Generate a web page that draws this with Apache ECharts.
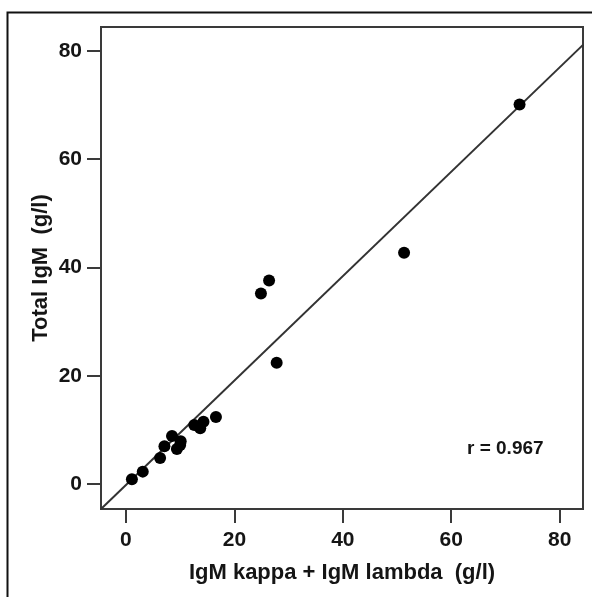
<!DOCTYPE html>
<html>
<head>
<meta charset="utf-8">
<script src="https://cdn.jsdelivr.net/npm/echarts@6/dist/echarts.min.js"></script>
<style>
html,body{margin:0;padding:0;background:#fff;}
#chart{width:592px;height:597px;}
</style>
</head>
<body>
<div id="chart"></div>
<script>
// Data
const kappaLambda = [1.1, 3.1, 6.3, 7.1, 8.5, 9.4, 10.1, 10.0, 12.6, 13.7, 14.3, 16.6, 24.9, 26.4, 27.8, 51.3, 72.6];
const totalIgM    = [0.9, 2.3, 4.8, 7.0, 8.9, 6.5, 7.9, 7.2, 10.9, 10.3, 11.5, 12.4, 35.2, 37.6, 22.4, 42.7, 70.1];
const fitX = [-4.6, 84.3];
const fitY = [-4.6, 81.1];
const tickValues = [0, 20, 40, 60, 80];
const xName = 'IgM kappa + IgM lambda  (g/l)';
const yName = 'Total IgM  (g/l)';
const rText = 'r = 0.967';

const points = kappaLambda.map((x, i) => [x, totalIgM[i]]);
const fitLine = fitX.map((x, i) => [x, fitY[i]]);

const font = 'Liberation Sans, Arial, sans-serif';
const axisColor = '#3a3a3a';
const textColor = '#151515';

function makeAxis(min, max, name, gap, labelMargin) {
  return {
    type: 'value',
    min: min,
    max: max,
    name: name,
    nameLocation: 'middle',
    nameGap: gap,
    nameMoveOverlap: false,
    nameTextStyle: {fontFamily: font, fontSize: 22, fontWeight: 'bold', color: textColor},
    splitLine: {show: false},
    axisLine: {show: true, onZero: false, lineStyle: {color: axisColor, width: 2}},
    axisTick: {show: true, length: 14, customValues: tickValues, lineStyle: {color: axisColor, width: 2}},
    axisLabel: {customValues: tickValues, margin: labelMargin, fontFamily: font, fontSize: 21, fontWeight: 'bold', color: textColor}
  };
}

const chart = echarts.init(document.getElementById('chart'), null, {renderer: 'canvas'});
chart.setOption({
  animation: false,
  backgroundColor: '#fff',
  grid: {left: 101, top: 27, right: 9, bottom: 88, show: true, borderColor: axisColor, borderWidth: 2, backgroundColor: 'transparent'},
  xAxis: makeAxis(-4.6, 84.3, xName, 53, 21),
  yAxis: makeAxis(-4.6, 84.4, yName, 49, 19),
  graphic: [
    {type: 'polyline', shape: {points: [[7.5, 597], [7.5, 12.5], [592, 12.5]]}, style: {stroke: '#111', lineWidth: 2, fill: null}, silent: true},
    {type: 'text', left: 467, top: 439, style: {text: rText, fontFamily: font, fontSize: 19, fontWeight: 'bold', fill: textColor}}
  ],
  series: [
    {type: 'line', data: fitLine, showSymbol: false, symbol: 'none', clip: true, lineStyle: {color: '#333', width: 2}, z: 2},
    {type: 'scatter', data: points, symbol: 'circle', symbolSize: 12, itemStyle: {color: '#000', opacity: 1}, z: 3}
  ]
});
</script>
</body>
</html>
